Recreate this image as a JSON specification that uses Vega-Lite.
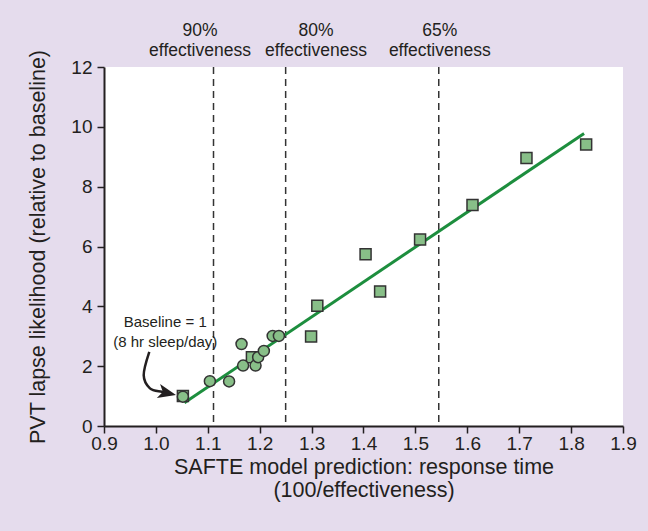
{
  "$schema": "https://vega.github.io/schema/vega-lite/v6.json",
  "width": 519,
  "height": 359,
  "autosize": {"type": "none"},
  "padding": {"left": 104, "top": 67, "right": 25, "bottom": 105},
  "background": "#e5dced",
  "config": {
    "view": {"fill": "white", "stroke": null},
    "font": "Liberation Sans",
    "axis": {
      "grid": false,
      "domainColor": "#231f20",
      "domainWidth": 2,
      "tickColor": "#231f20",
      "tickWidth": 1.5,
      "tickSize": 7,
      "labelFontSize": 19,
      "labelColor": "#231f20",
      "labelFont": "Liberation Sans",
      "titleFont": "Liberation Sans",
      "titleFontSize": 21.5,
      "titleFontWeight": "normal",
      "titleColor": "#231f20",
      "labelFlush": false,
      "labelOverlap": false,
      "labelBound": false,
      "zindex": 1
    }
  },
  "datasets": {
    "points": [
      {"x": 1.052, "y": 1.0, "shape": "square"},
      {"x": 1.185, "y": 2.3, "shape": "square"},
      {"x": 1.299, "y": 2.99, "shape": "square"},
      {"x": 1.311, "y": 4.02, "shape": "square"},
      {"x": 1.404, "y": 5.74, "shape": "square"},
      {"x": 1.432, "y": 4.5, "shape": "square"},
      {"x": 1.509, "y": 6.23, "shape": "square"},
      {"x": 1.61, "y": 7.39, "shape": "square"},
      {"x": 1.714, "y": 8.96, "shape": "square"},
      {"x": 1.829, "y": 9.41, "shape": "square"},
      {"x": 1.052, "y": 0.98, "shape": "circle"},
      {"x": 1.104, "y": 1.5, "shape": "circle"},
      {"x": 1.141, "y": 1.49, "shape": "circle"},
      {"x": 1.165, "y": 2.74, "shape": "circle"},
      {"x": 1.168, "y": 2.02, "shape": "circle"},
      {"x": 1.192, "y": 2.02, "shape": "circle"},
      {"x": 1.197, "y": 2.3, "shape": "circle"},
      {"x": 1.208, "y": 2.51, "shape": "circle"},
      {"x": 1.225, "y": 3.01, "shape": "circle"},
      {"x": 1.237, "y": 3.01, "shape": "circle"}
    ],
    "fit": [
      {"x": 1.055, "y": 0.78},
      {"x": 1.825, "y": 9.78}
    ],
    "thresholds": [
      {"x": 1.111},
      {"x": 1.25},
      {"x": 1.545}
    ],
    "toplabels": [
      {"x": 1.085, "y": 13.2, "text": "90%"},
      {"x": 1.085, "y": 12.53, "text": "effectiveness"},
      {"x": 1.3085, "y": 13.2, "text": "80%"},
      {"x": 1.3085, "y": 12.53, "text": "effectiveness"},
      {"x": 1.547, "y": 13.2, "text": "65%"},
      {"x": 1.547, "y": 12.53, "text": "effectiveness"}
    ],
    "arrow": [
      {"x": 0.9873, "y": 2.48, "order": 1},
      {"x": 0.9765, "y": 1.7, "order": 2},
      {"x": 0.9886, "y": 1.26, "order": 3},
      {"x": 1.0112, "y": 1.146, "order": 4},
      {"x": 1.0218, "y": 1.103, "order": 5}
    ],
    "arrowhead": [
      {"x": 1.0218, "y": 1.103}
    ],
    "annotation": [
      {"x": 1.018, "y": 3.48, "text": "Baseline = 1"},
      {"x": 1.018, "y": 2.81, "text": "(8 hr sleep/day)"}
    ]
  },
  "layer": [
    {
      "data": {"name": "thresholds"},
      "mark": {"type": "rule", "strokeDash": [7, 5], "color": "#333333", "strokeWidth": 1.5},
      "encoding": {
        "x": {
          "field": "x",
          "type": "quantitative",
          "scale": {"domain": [0.9, 1.9], "nice": false, "zero": false},
          "axis": {
            "values": [0.9, 1.0, 1.1, 1.2, 1.3, 1.4, 1.5, 1.6, 1.7, 1.8, 1.9],
            "format": ".1f",
            "labelPadding": 1,
            "title": ["SAFTE model prediction: response time", "(100/effectiveness)"],
            "titlePadding": 3,
            "titleLineHeight": 23
          }
        }
      }
    },
    {
      "data": {"name": "fit"},
      "mark": {"type": "line", "color": "#1d8e3e", "strokeWidth": 3},
      "encoding": {
        "x": {"field": "x", "type": "quantitative"},
        "y": {
          "field": "y",
          "type": "quantitative",
          "scale": {"domain": [0, 12], "nice": false, "zero": true},
          "axis": {
            "values": [0, 2, 4, 6, 8, 10, 12],
            "labelPadding": 5,
            "title": "PVT lapse likelihood (relative to baseline)",
            "titlePadding": 21
          }
        }
      }
    },
    {
      "data": {"name": "points"},
      "mark": {"type": "point", "filled": true, "fill": "#88bf88", "stroke": "#333333", "strokeWidth": 1.5, "size": 121, "opacity": 1},
      "encoding": {
        "x": {"field": "x", "type": "quantitative"},
        "y": {"field": "y", "type": "quantitative"},
        "shape": {"field": "shape", "type": "nominal", "scale": null}
      }
    },
    {
      "data": {"name": "arrow"},
      "mark": {"type": "line", "color": "#231f20", "strokeWidth": 2.5, "interpolate": "cardinal"},
      "encoding": {
        "x": {"field": "x", "type": "quantitative"},
        "y": {"field": "y", "type": "quantitative"},
        "order": {"field": "order", "type": "quantitative"}
      }
    },
    {
      "data": {"name": "arrowhead"},
      "mark": {"type": "point", "shape": "M1,0L-1,-0.8L-0.5,0L-1,0.8Z", "filled": true, "color": "#231f20", "size": 324, "angle": 13, "opacity": 1},
      "encoding": {
        "x": {"field": "x", "type": "quantitative"},
        "y": {"field": "y", "type": "quantitative"}
      }
    },
    {
      "data": {"name": "annotation"},
      "mark": {"type": "text", "fontSize": 15, "color": "#231f20", "align": "center", "baseline": "middle", "font": "Liberation Sans"},
      "encoding": {
        "x": {"field": "x", "type": "quantitative"},
        "y": {"field": "y", "type": "quantitative"},
        "text": {"field": "text"}
      }
    },
    {
      "data": {"name": "toplabels"},
      "mark": {"type": "text", "fontSize": 17.5, "color": "#231f20", "align": "center", "baseline": "middle", "font": "Liberation Sans"},
      "encoding": {
        "x": {"field": "x", "type": "quantitative"},
        "y": {"field": "y", "type": "quantitative"},
        "text": {"field": "text"}
      }
    }
  ]
}
